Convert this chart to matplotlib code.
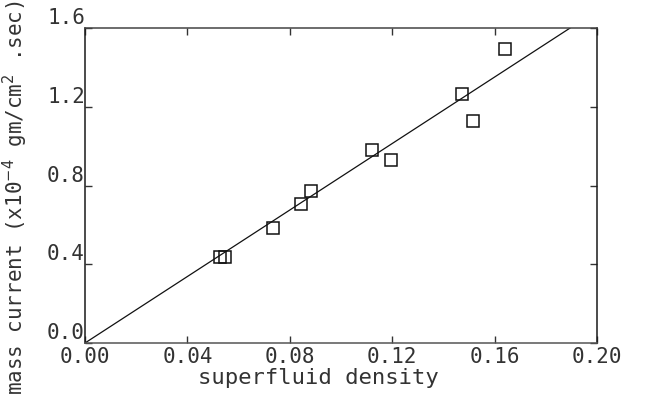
import numpy as np
import matplotlib
matplotlib.use("Agg")
import matplotlib.pyplot as plt

density = [0.0527, 0.0547, 0.0734, 0.0844, 0.0883, 0.1121, 0.1195, 0.1473, 0.1516, 0.1640]
current = [0.437, 0.437, 0.584, 0.706, 0.772, 0.980, 0.930, 1.265, 1.128, 1.493]

# straight fit through the origin
fit_x = [0.0, 0.1895]
fit_y = [0.0, 1.6]

xticks = [0.00, 0.04, 0.08, 0.12, 0.16, 0.20]
yticks = [0.0, 0.4, 0.8, 1.2, 1.6]

ink = "#333333"
font = {"family": "DejaVu Sans Mono", "color": ink}

fig = plt.figure(figsize=(6.49, 3.95), dpi=100)
ax = fig.add_axes([85 / 649, 1 - 343 / 395, 512 / 649, 315 / 395])

ax.plot(fit_x, fit_y, color="#111111", lw=0.9)
ax.plot(density, current, ls="none", marker="s", ms=8, mfc="none",
        mec="#111111", mew=1.1)

ax.set_xlim(0, 0.2)
ax.set_ylim(0, 1.6)
ax.set_xticks(xticks)
ax.set_yticks(yticks)
ax.set_xticklabels(["%.2f" % v for v in xticks], fontdict=font, fontsize=15)
ax.set_yticklabels(["%.1f" % v for v in yticks], fontdict=font, fontsize=15,
                   va="bottom")
ax.tick_params(axis="both", direction="in", length=5, width=1, color=ink,
               top=True, right=True)
ax.tick_params(axis="x", pad=3)
ax.tick_params(axis="y", pad=0)

for s in ax.spines.values():
    s.set_linewidth(1.1)
    s.set_color("#1a1a1a")
ax.spines["bottom"].set_color("#555555")
ax.spines["top"].set_color("#444444")

fig.text(318 / 649, 1 - 384 / 395, "superfluid density", ha="center",
         va="baseline", fontsize=16, **font)
fig.text(15 / 649, 0.5,
         r"mass current (x10$^{-4}$ gm/cm$^{2}$ .sec)", rotation=90,
         ha="center", va="center", fontsize=15, **font)

fig.savefig("out.png", dpi=100, facecolor="white")
